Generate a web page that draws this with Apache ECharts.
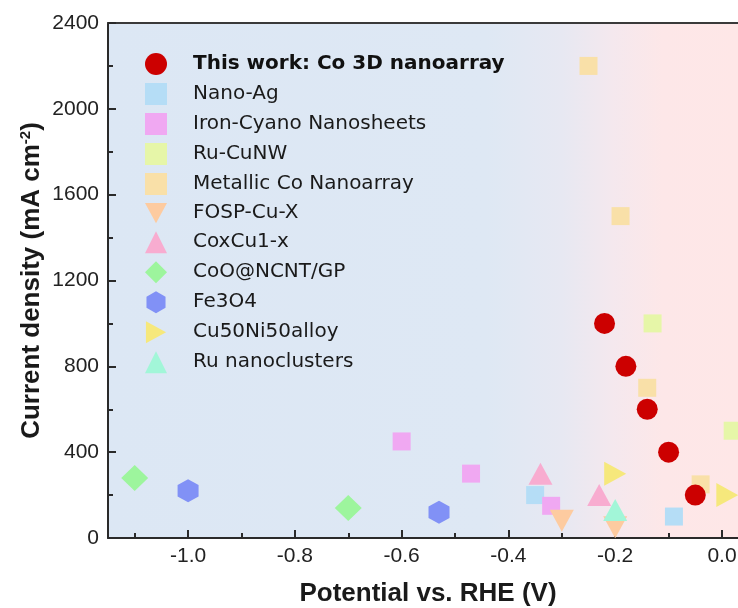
<!DOCTYPE html>
<html>
<head>
<meta charset="utf-8">
<script src="https://cdn.jsdelivr.net/npm/echarts@6/dist/echarts.min.js"></script>
<style>
  html, body { margin: 0; padding: 0; background: #ffffff; }
  #chart { width: 738px; height: 608px; }
</style>
</head>
<body>
<div id="chart"></div>
<script>
// Current density vs. potential for nitrate-reduction catalysts
const thisWorkX   = [-0.22, -0.18, -0.14, -0.10, -0.05];
const thisWorkY   = [1000, 800, 600, 400, 200];
const nanoAgX     = [-0.35, -0.09];
const nanoAgY     = [200, 100];
const ironCyanoX  = [-0.60, -0.47, -0.32];
const ironCyanoY  = [450, 300, 150];
const ruCuNWX     = [-0.13, 0.02];
const ruCuNWY     = [1000, 500];
const metallicCoX = [-0.25, -0.19, -0.14, -0.04];
const metallicCoY = [2200, 1500, 700, 250];
const fospCuX     = [-0.30, -0.20];
const fospCuY     = [80, 50];
const coxCuX      = [-0.34, -0.23];
const coxCuY      = [300, 200];
const cooNcntX    = [-1.10, -0.70];
const cooNcntY    = [280, 140];
const fe3o4X      = [-1.00, -0.53];
const fe3o4Y      = [220, 120];
const cuNiX       = [-0.20, 0.01];
const cuNiY       = [300, 200];
const ruNanoX     = [-0.20];
const ruNanoY     = [130];

const seriesNames = [
  'This work: Co 3D nanoarray', 'Nano-Ag', 'Iron-Cyano Nanosheets', 'Ru-CuNW',
  'Metallic Co Nanoarray', 'FOSP-Cu-X', 'CoxCu1-x', 'CoO@NCNT/GP', 'Fe3O4',
  'Cu50Ni50alloy', 'Ru nanoclusters'
];

// Axis ticks
const xMin = -1.15, xMax = 0.03;
const xMajorTicks = [-1.0, -0.8, -0.6, -0.4, -0.2, 0.0];
const xMinorTicks = [-1.1, -0.9, -0.7, -0.5, -0.3, -0.1];
const yMin = 0, yMax = 2400, yStep = 400;

const pairs = (xs, ys) => xs.map((x, i) => [x, ys[i]]);

const HEX = 'path://M0,-10 L8.66,-5 L8.66,5 L0,10 L-8.66,5 L-8.66,-5 Z';
const DOWN = 'path://M0,0 L24,0 L12,22 Z';
const RIGHT = 'path://M0,0 L22,12 L0,24 Z';

const styles = [
  { data: pairs(thisWorkX, thisWorkY),     symbol: 'circle',   size: 21,       color: '#cc0000', z: 4 },
  { data: pairs(nanoAgX, nanoAgY),         symbol: 'rect',     size: 18,       color: '#b5ddf6' },
  { data: pairs(ironCyanoX, ironCyanoY),   symbol: 'rect',     size: 18,       color: '#f0a8f2' },
  { data: pairs(ruCuNWX, ruCuNWY),         symbol: 'rect',     size: 18,       color: '#e6f6a8' },
  { data: pairs(metallicCoX, metallicCoY), symbol: 'rect',     size: 18,       color: '#f9e0a8' },
  { data: pairs(fospCuX, fospCuY),         symbol: DOWN,       size: [24, 22], color: '#fdcba0' },
  { data: pairs(coxCuX, coxCuY),           symbol: 'triangle', size: [24, 22], color: '#f8acd0' },
  { data: pairs(cooNcntX, cooNcntY),       symbol: 'diamond',  size: [27, 26], color: '#9df59d' },
  { data: pairs(fe3o4X, fe3o4Y),           symbol: HEX,        size: [21, 23], color: '#8191f6' },
  { data: pairs(cuNiX, cuNiY),             symbol: RIGHT,      size: [22, 24], color: '#f6e87c' },
  { data: pairs(ruNanoX, ruNanoY),         symbol: 'triangle', size: [24, 22], color: '#a2f6d8' }
];

const series = styles.map((s, i) => ({
  name: seriesNames[i],
  type: 'scatter',
  xAxisIndex: 0,
  yAxisIndex: 0,
  data: s.data,
  symbol: s.symbol,
  symbolSize: s.size,
  itemStyle: { color: s.color, opacity: 1 },
  z: s.z || 2
}));

const AXIS_COLOR = '#2a2a2a';
const labelFont = { fontFamily: 'Liberation Sans, Arial, sans-serif', fontSize: 21, color: '#222222' };
const nameFont = { fontFamily: 'Liberation Sans, Arial, sans-serif', fontSize: 26, fontWeight: 'bold', color: '#1a1a1a' };

const chart = echarts.init(document.getElementById('chart'), null, { renderer: 'canvas' });

chart.setOption({
  animation: false,
  backgroundColor: '#ffffff',
  grid: {
    left: 108, right: 0, top: 23, bottom: 70,
    outerBoundsMode: 'none',
    containLabel: false,
    show: true,
    borderWidth: 0,
    backgroundColor: {
      type: 'linear', x: 0, y: 0, x2: 1, y2: 0,
      colorStops: [
        { offset: 0.00, color: '#dce7f4' },
        { offset: 0.60, color: '#dee8f4' },
        { offset: 0.72, color: '#e7e8f2' },
        { offset: 0.80, color: '#f4e8ee' },
        { offset: 0.88, color: '#fde7e8' },
        { offset: 1.00, color: '#fee7e7' }
      ]
    }
  },
  legend: {
    orient: 'vertical',
    left: 140,
    top: 48,
    itemWidth: 22,
    itemHeight: 22,
    itemGap: 8,
    selectedMode: false,
    data: seriesNames,
    formatter: name => (name === seriesNames[0] ? '{b|' + name + '}' : '{n|' + name + '}'),
    textStyle: {
      fontFamily: 'DejaVu Sans',
      fontSize: 20,
      color: '#1a1a1a',
      rich: {
        n: { fontFamily: 'DejaVu Sans', fontSize: 20, color: '#1a1a1a', padding: [0, 0, 0, 21] },
        b: { fontFamily: 'DejaVu Sans', fontSize: 20, fontWeight: 'bold', color: '#111111', padding: [0, 0, 0, 21] }
      }
    }
  },
  xAxis: [
    {
      type: 'value', position: 'bottom', min: xMin, max: xMax,
      name: 'Potential vs. RHE (V)',
      nameLocation: 'middle',
      nameGap: 43,
      nameMoveOverlap: false,
      nameTextStyle: Object.assign({ padding: [0, 0, 0, 10] }, nameFont),
      splitLine: { show: false },
      axisLine: { show: true, onZero: false, lineStyle: { color: AXIS_COLOR, width: 2 } },
      axisTick: { show: true, inside: true, length: 8, customValues: xMajorTicks, lineStyle: { color: AXIS_COLOR, width: 2 } },
      axisLabel: Object.assign({ show: true, margin: 8, customValues: xMajorTicks, formatter: v => v.toFixed(1) }, labelFont)
    },
    {
      type: 'value', position: 'bottom', min: xMin, max: xMax,
      splitLine: { show: false },
      axisLine: { show: false },
      axisTick: { show: true, inside: true, length: 5, customValues: xMinorTicks, lineStyle: { color: AXIS_COLOR, width: 2 } },
      axisLabel: { show: false }
    },
    {
      type: 'value', position: 'top', min: xMin, max: xMax,
      splitLine: { show: false },
      axisLine: { show: true, onZero: false, lineStyle: { color: '#3a3a3a', width: 2 } },
      axisTick: { show: false },
      axisLabel: { show: false }
    }
  ],
  yAxis: [
    {
      type: 'value', min: yMin, max: yMax, interval: yStep,
      name: 'Current density (mA cm{sup|-2})',
      nameLocation: 'middle',
      nameGap: 63,
      nameMoveOverlap: false,
      nameRotate: 90,
      nameTextStyle: Object.assign({
        rich: {
          sup: { fontFamily: 'Liberation Sans, Arial, sans-serif', fontSize: 15, fontWeight: 'bold', color: '#1a1a1a', verticalAlign: 'bottom', padding: [0, 0, 12, 0] }
        }
      }, nameFont),
      splitLine: { show: false },
      axisLine: { show: true, onZero: false, lineStyle: { color: AXIS_COLOR, width: 2 } },
      axisTick: { show: true, inside: true, length: 8, lineStyle: { color: AXIS_COLOR, width: 2 } },
      minorTick: { show: true, splitNumber: 2, length: 5, lineStyle: { color: AXIS_COLOR, width: 2 } },
      axisLabel: Object.assign({ margin: 9, formatter: v => String(v) }, labelFont)
    }
  ],
  series: series
});
</script>
</body>
</html>
